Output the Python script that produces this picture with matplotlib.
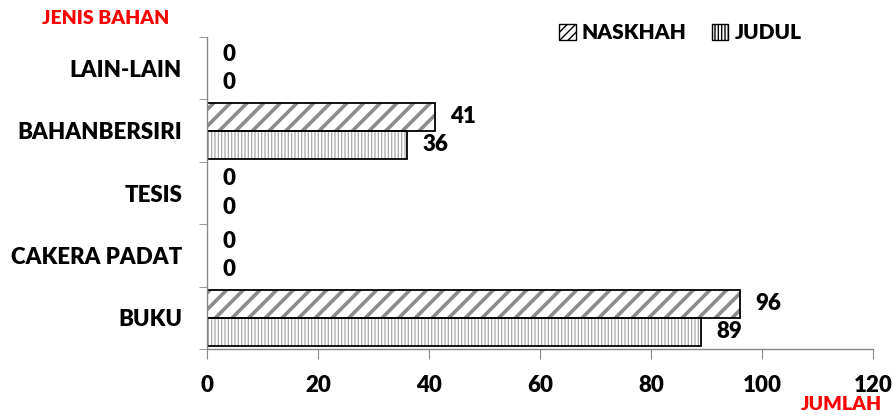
import matplotlib
matplotlib.use("Agg")
import matplotlib.pyplot as plt
from matplotlib.patches import Patch
import numpy as np

plt.rcParams['font.family'] = ['Lato', 'DejaVu Sans']
plt.rcParams['font.weight'] = 'heavy'

categories = ["BUKU", "CAKERA PADAT", "TESIS", "BAHANBERSIRI", "LAIN-LAIN"]
naskhah = [96, 0, 0, 41, 0]
judul = [89, 0, 0, 36, 0]
x_ticks = [0, 20, 40, 60, 80, 100, 120]

fig = plt.figure(figsize=(8.95, 4.18), dpi=100)
ax = fig.add_axes([0.2313, 0.165, 0.744, 0.7465])

y = np.arange(len(categories))
h = 0.45
grey_d = '#8c8c8c'
grey_v = '#a8a8a8'
W = 'heavy'

# hatched fills (grey hatch), outlines drawn separately in black
with plt.rc_context({'hatch.linewidth': 2.6}):
    b1 = ax.barh(y + h / 2, naskhah, height=h, color='white', edgecolor=grey_d,
                 hatch='//', linewidth=0)
for p in b1:
    if hasattr(p, 'set_hatch_linewidth'):
        p.set_hatch_linewidth(2.6)
with plt.rc_context({'hatch.linewidth': 0.9}):
    b2 = ax.barh(y - h / 2, judul, height=h, color='white', edgecolor=grey_v,
                 hatch='|||||', linewidth=0)
for p in b2:
    if hasattr(p, 'set_hatch_linewidth'):
        p.set_hatch_linewidth(0.9)
ax.barh(y + h / 2, naskhah, height=h, fill=False, edgecolor='black', linewidth=1.3)
ax.barh(y - h / 2, judul, height=h, fill=False, edgecolor='black', linewidth=1.3)

for yi, v in zip(y, naskhah):
    ax.annotate(str(v), (v, yi + h / 2), xytext=(11, 0), textcoords='offset points',
                va='center', ha='left', fontsize=16, fontweight=W)
for yi, v in zip(y, judul):
    ax.annotate(str(v), (v, yi - h / 2), xytext=(11, 0), textcoords='offset points',
                va='center', ha='left', fontsize=16, fontweight=W)

ax.set_xlim(0, 120)
ax.set_ylim(-0.5, len(categories) - 0.5)
ax.set_xticks(x_ticks)
ax.set_xticklabels([str(t) for t in x_ticks], fontsize=16, fontweight=W)
ax.set_yticks(y)
ax.set_yticklabels(categories, fontsize=16, fontweight=W)
ax.set_yticks(np.arange(len(categories) + 1) - 0.5, minor=True)
ax.tick_params(axis='y', which='major', length=0, pad=18)
ax.tick_params(axis='y', which='minor', length=6, color='#888888', direction='out')
ax.tick_params(axis='x', which='major', length=7, color='#888888', pad=12)

for s in ['top', 'right']:
    ax.spines[s].set_visible(False)
for s in ['left', 'bottom']:
    ax.spines[s].set_color('#888888')
    ax.spines[s].set_linewidth(1)

fig.text(0.118, 0.955, "JENIS BAHAN", color='#ff0000', fontsize=14,
         fontweight=W, ha='center', va='center')
fig.text(0.985, 0.032, "JUMLAH", color='#ff0000', fontsize=14,
         fontweight=W, ha='right', va='center')

handles = [Patch(facecolor='white', edgecolor='black', hatch='////', label='NASKHAH'),
           Patch(facecolor='white', edgecolor='black', hatch='|||||', label='JUDUL')]
fig.legend(handles=handles, loc='center', bbox_to_anchor=(0.76, 0.922), ncol=2,
           frameon=False, handlelength=0.8, handleheight=0.8,
           handletextpad=0.3, columnspacing=1.2, prop={'weight': W, 'size': 15})

fig.savefig("out.png", dpi=100)
